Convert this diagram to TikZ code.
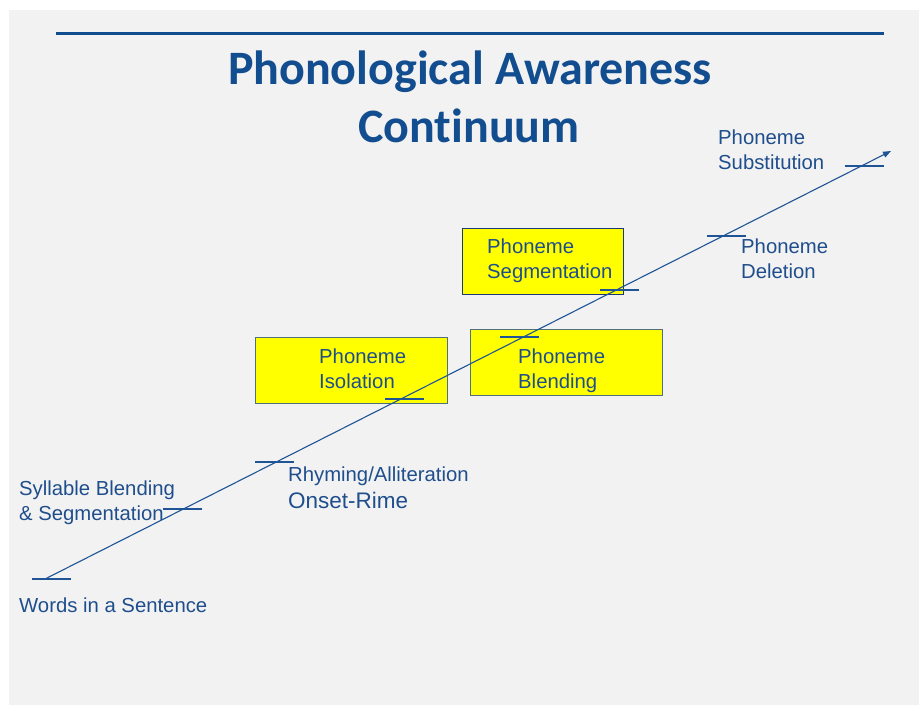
\documentclass[tikz,border=0pt]{standalone}
\usepackage{fontspec}
\setmainfont{Liberation Sans}
\newfontfamily\titlefont[Ligatures={NoCommon}]{Carlito}
\usetikzlibrary{arrows.meta}
\definecolor{bgray}{HTML}{F2F2F2}
\definecolor{txtblue}{HTML}{1F4E8C}
\definecolor{titleblue}{HTML}{124D8F}
\definecolor{linblue}{HTML}{1F5496}
\definecolor{boxyellow}{HTML}{FFFF00}
\definecolor{segborder}{HTML}{1A3A78}
\definecolor{boxborder}{HTML}{50707E}
\tikzset{
  lbl/.style={anchor=base west, inner sep=0pt, align=left, text=txtblue,
    font=\fontsize{20.3}{25}\selectfont},
  ybox/.style={draw=boxborder, line width=1pt, fill=boxyellow, inner sep=0pt},
  tick/.style={draw=linblue, line width=1.1pt},
  ttl/.style={anchor=base, inner sep=0pt, text=titleblue,
    font=\titlefont\bfseries\fontsize{48}{58}\selectfont}
}
\begin{document}
\begin{tikzpicture}[x=1pt,y=-1pt]
\useasboundingbox (0,0) rectangle (919,705);
\fill[white] (0,0) rectangle (919,705);
\fill[bgray] (9,10) rectangle (919,705);
% title rule
\coordinate (rl) at (56,33);
\coordinate (rr) at (884,33);
\draw[titleblue, line width=3pt] (rl) -- (rr);
\node[ttl] (t1) at (470,84) {Phonological Awareness};
\node[ttl] (t2) at (469,142) {Continuum};
% boxes
\node[ybox, draw=segborder, minimum width=161pt, minimum height=66pt] (seg) at (542.5,261) {};
\node[ybox, minimum width=192pt, minimum height=66pt] (iso) at (351,370) {};
\node[ybox, minimum width=192pt, minimum height=66pt] (blend) at (566,362) {};
% main arrow
\coordinate (start) at (45,579);
\coordinate (tip) at (891,151);
\draw[linblue, line width=1.1pt, -{Triangle[length=8pt,width=6pt]}] (start) -- (tip);
% ticks
\draw[tick] (32,579) -- (71,579);
\draw[tick] (163,509) -- (202,509);
\draw[tick] (255,462) -- (294,462);
\draw[tick] (385,399) -- (424,399);
\draw[tick] (500,337) -- (539,337);
\draw[tick] (600,290) -- (639,290);
\draw[tick] (707,236) -- (746,236);
\draw[tick] (845,166) -- (884,166);
% labels (base anchor = baseline of last line)
\node[lbl] (words) at (19,612) {Words in a Sentence};
\node[lbl] (syl) at (19,520) {Syllable Blending\\\& Segmentation};
\node[lbl] (rhy) at (288,481) {Rhyming/Alliteration};
\node[lbl, font=\fontsize{22.5}{27}\selectfont] (onset) at (288,508) {Onset-Rime};
\node[lbl] (isot) at (319,388) {Phoneme\\Isolation};
\node[lbl] (blendt) at (518,388) {Phoneme\\Blending};
\node[lbl] (segt) at (487,278) {Phoneme\\Segmentation};
\node[lbl] (delt) at (741,278) {Phoneme\\Deletion};
\node[lbl] (subt) at (718,169) {Phoneme\\Substitution};
\end{tikzpicture}
\end{document}
